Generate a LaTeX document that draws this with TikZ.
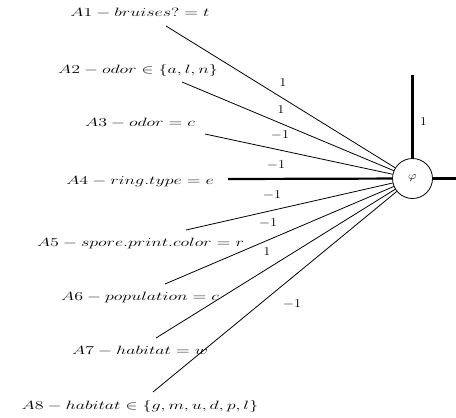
\documentclass[tikz,border=0pt]{standalone}
\usepackage{amsmath}
\usetikzlibrary{positioning}
\newcommand{\xstretch}[2]{\scalebox{#1}[1]{$#2$}}

\begin{document}
\begin{tikzpicture}[x=1pt, y=-1pt,
          attr/.style={font=\fontsize{12}{14}\selectfont, inner sep=0pt},
          wt/.style={font=\fontsize{12.5}{14}\selectfont, inner sep=0pt},
          unit/.style={draw, circle, line width=0.8pt, minimum size=40pt, inner sep=0pt, font=\fontsize{11}{13}\selectfont},
          thinedge/.style={line width=0.8pt},
          thickedge/.style={line width=2.2pt}]
        \useasboundingbox (0,0) rectangle (456,418);
        % output unit
        \node[unit] (phi) at (412.5,178.5) {\xstretch{1.2}{\varphi}};
        % attribute labels
        \node[attr] (a1) at (140,13) {\xstretch{1.5}{A1 - bruises? = t}};
        \node[attr] (a2) at (138,70) {\xstretch{1.5}{A2 - odor \in \{a, l, n\}}};
        \node[attr] (a3) at (140,123) {\xstretch{1.5}{A3 - odor = c}};
        \node[attr] (a4) at (140,182) {\xstretch{1.5}{A4 - ring.type = e}};
        \node[attr] (a5) at (140.5,243) {\xstretch{1.5}{A5 - spore.print.color = r}};
        \node[attr] (a6) at (140,297) {\xstretch{1.5}{A6 - population = c}};
        \node[attr] (a7) at (140,351) {\xstretch{1.5}{A7 - habitat = w}};
        \node[attr] (a8) at (140,406) {\xstretch{1.5}{A8 - habitat \in \{g, m, u, d, p, l\}}};
        % line starts
        \coordinate (s1) at (166,26);
        \coordinate (s2) at (182,82);
        \coordinate (s3) at (205,134);
        \coordinate (s4) at (228,179);
        \coordinate (s5) at (186,230);
        \coordinate (s6) at (165,284);
        \coordinate (s7) at (156,338);
        \coordinate (s8) at (153,392);
        \coordinate (bias) at (412.5,75);
        \coordinate (out) at (456,178.5);
        % connectors
        \draw[thinedge] (s1) -- (phi);
        \draw[thinedge] (s2) -- (phi);
        \draw[thinedge] (s3) -- (phi);
        \draw[thickedge] (s4) -- (phi);
        \draw[thinedge] (s5) -- (phi);
        \draw[thinedge] (s6) -- (phi);
        \draw[thinedge] (s7) -- (phi);
        \draw[thinedge] (s8) -- (phi);
        \draw[thickedge] (bias) -- (phi);
        \draw[thickedge] (phi) -- (out);
        % weights
        \node[wt] (w1) at (283,83) {\xstretch{1.2}{1}};
        \node[wt] (w2) at (281,110) {\xstretch{1.2}{1}};
        \node[wt] (w3) at (280,135) {\xstretch{1.2}{-1}};
        \node[wt] (w4) at (276,165) {\xstretch{1.2}{-1}};
        \node[wt] (w5) at (272,195) {\xstretch{1.2}{-1}};
        \node[wt] (w6) at (268,223) {\xstretch{1.2}{-1}};
        \node[wt] (w7) at (267,252) {\xstretch{1.2}{1}};
        \node[wt] (w8) at (292,304) {\xstretch{1.2}{-1}};
        \node[wt] (wb) at (423.5,122) {\xstretch{1.2}{1}};
      \end{tikzpicture}
\end{document}
